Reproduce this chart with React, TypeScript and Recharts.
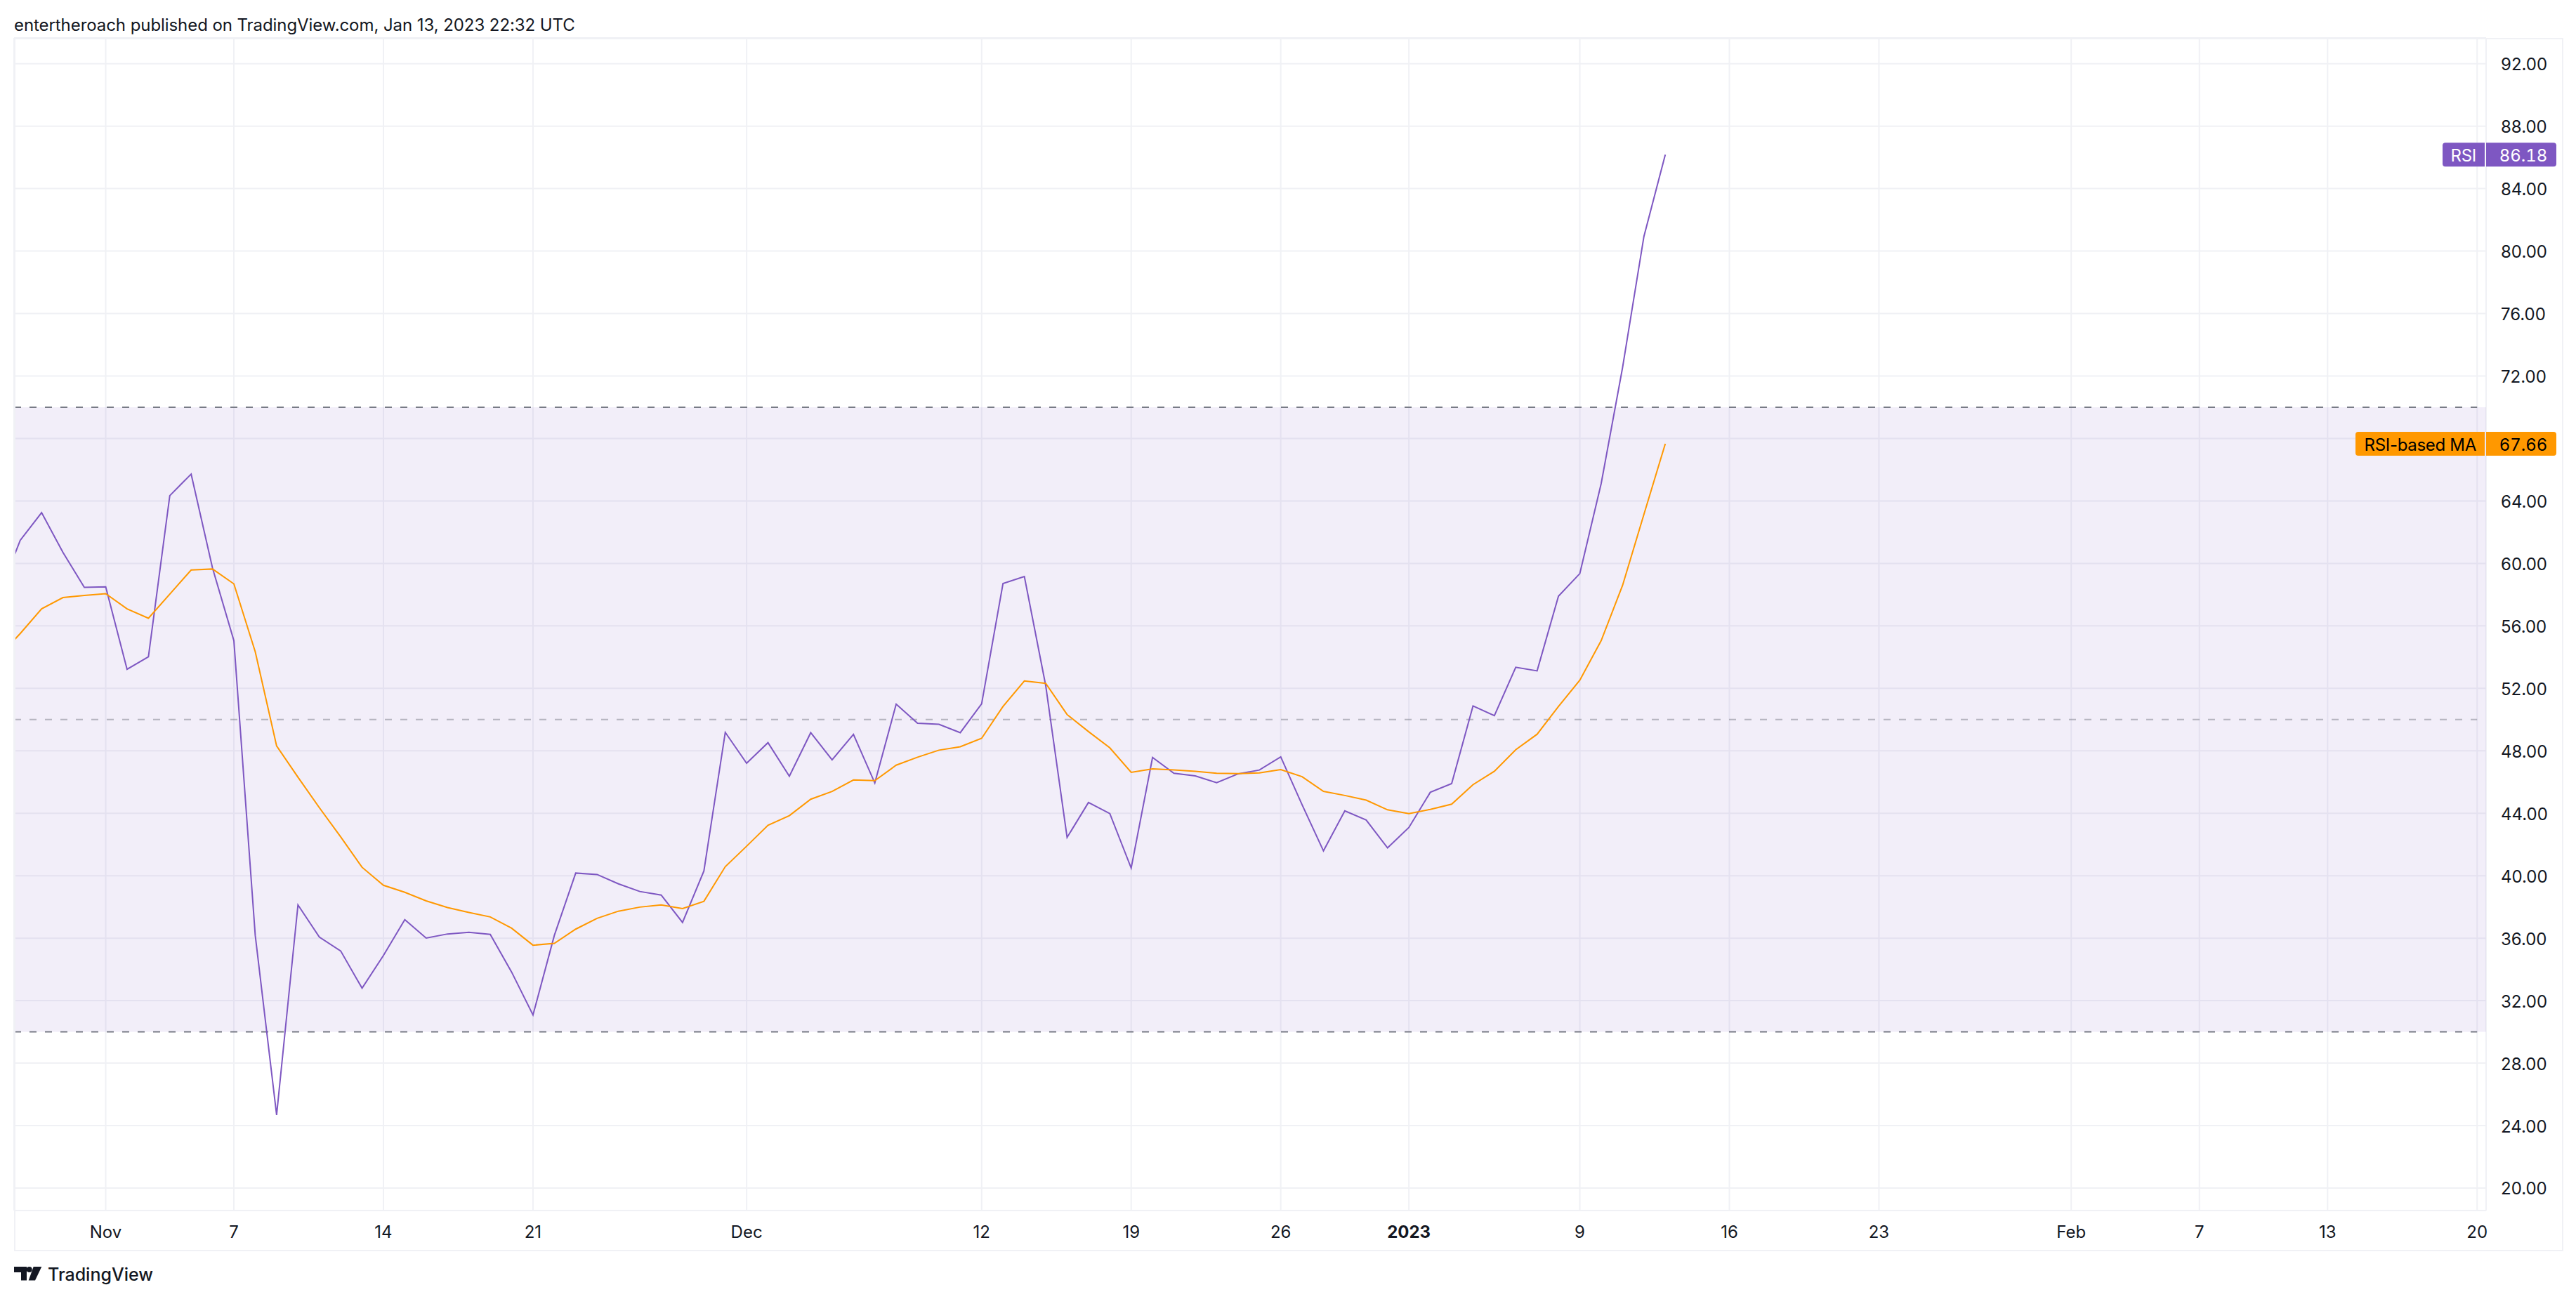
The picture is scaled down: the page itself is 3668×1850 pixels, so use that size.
import { ComposedChart, Line, XAxis, YAxis, CartesianGrid, ReferenceArea, ReferenceLine, ReferenceDot } from 'recharts'

// day offsets from Nov 1, 2022
const days = [
  -5, -4, -3, -2, -1, 0, 1, 2, 3, 4, 5, 6, 7, 8, 9, 10, 11, 12, 13, 14,
  15, 16, 17, 18, 19, 20, 21, 22, 23, 24, 25, 26, 27, 28, 29, 30, 31, 32, 33, 34,
  35, 36, 37, 38, 39, 40, 41, 42, 43, 44, 45, 46, 47, 48, 49, 50, 51, 52, 53, 54,
  55, 56, 57, 58, 59, 60, 61, 62, 63, 64, 65, 66, 67, 68, 69, 70, 71, 72, 73,
]

const rsiValues = [
  58.0, 61.48, 63.25, 60.7, 58.47, 58.5, 53.22, 54.02, 64.34, 65.72, 59.7, 55.05, 36.18, 24.68, 38.13, 36.07, 35.18, 32.8, 34.89, 37.19,
  36.01, 36.27, 36.38, 36.24, 33.83, 31.08, 36.18, 40.17, 40.08, 39.48, 38.99, 38.76, 37.01, 40.3, 49.18, 47.2, 48.52, 46.37, 49.16, 47.42,
  49.05, 45.94, 50.99, 49.76, 49.7, 49.16, 51.01, 58.71, 59.16, 52.17, 42.45, 44.69, 43.98, 40.49, 47.57, 46.56, 46.39, 45.96, 46.52, 46.77,
  47.61, 44.54, 41.59, 44.15, 43.57, 41.78, 43.09, 45.34, 45.9, 50.87, 50.25, 53.35, 53.12, 57.9, 59.35, 65.12, 72.54, 80.94, 86.18,
]

const maValues = [
  54.02, 55.51, 57.09, 57.81, 57.95, 58.06, 57.09, 56.49, 58.03, 59.58, 59.64, 58.69, 54.34, 48.31, 46.31, 44.36, 42.49, 40.54, 39.39, 38.94,
  38.39, 37.96, 37.65, 37.36, 36.64, 35.55, 35.67, 36.58, 37.27, 37.73, 37.99, 38.13, 37.9, 38.36, 40.58, 41.89, 43.23, 43.85, 44.9, 45.4,
  46.13, 46.09, 47.08, 47.59, 48.04, 48.26, 48.8, 50.84, 52.47, 52.32, 50.32, 49.23, 48.19, 46.62, 46.84, 46.77, 46.69, 46.56, 46.54, 46.58,
  46.8, 46.34, 45.4, 45.14, 44.84, 44.22, 43.98, 44.25, 44.58, 45.83, 46.69, 48.07, 49.06, 50.84, 52.52, 55.06, 58.59, 63.14, 67.66,
]

const tickDays = [0, 6, 13, 20, 30, 41, 48, 55, 61, 69, 76, 83, 92, 98, 104, 111]
const tickLabels = ['Nov', '7', '14', '21', 'Dec', '12', '19', '26', '2023', '9', '16', '23', 'Feb', '7', '13', '20']
const priceTicks = [20, 24, 28, 32, 36, 40, 44, 48, 52, 56, 60, 64, 68, 72, 76, 80, 84, 88, 92]

const chartData = days.map((day, i) => ({ day, rsi: rsiValues[i], ma: maValues[i] }))

const FONT = 'Inter, sans-serif'
const INK = '#131722'
const GRID = '#F0F1F5'
const X_MIN = -4.29
const X_MAX = 111.42

function DateTick({ x, payload }: any) {
  const label = tickLabels[tickDays.indexOf(payload.value)]
  return (
    <text x={x} y={1754} textAnchor="middle" dominantBaseline="central" fontFamily={FONT} fontSize={24} fontWeight={label === '2023' ? 700 : 400} fill={INK}>
      {label}
    </text>
  )
}

function PriceTick({ x, y, payload }: any) {
  // the 68.00 label sits behind the RSI-based MA tag in the reference
  if (payload.value === 68) return null
  return (
    <text x={x} y={y + 1} textAnchor="start" dominantBaseline="central" fontFamily={FONT} fontSize={24} fill={INK}>
      {Number(payload.value).toFixed(2)}
    </text>
  )
}

function PriceTag({ cx, cy, name, value, color, textColor, labelWidth }: any) {
  const top = cy - 17
  const bottom = cy + 17
  const r = 4
  const labelLeft = cx - 2 - labelWidth
  return (
    <g fontFamily={FONT} fontSize={24}>
      <path d={`M${cx - 2} ${top}H${labelLeft + r}Q${labelLeft} ${top} ${labelLeft} ${top + r}V${bottom - r}Q${labelLeft} ${bottom} ${labelLeft + r} ${bottom}H${cx - 2}Z`} fill={color} />
      <path d={`M${cx} ${top}H${cx + 100 - r}Q${cx + 100} ${top} ${cx + 100} ${top + r}V${bottom - r}Q${cx + 100} ${bottom} ${cx + 100 - r} ${bottom}H${cx}Z`} fill={color} />
      <text x={cx - 14} y={cy + 1} textAnchor="end" dominantBaseline="central" fill={textColor} letterSpacing={-0.3}>{name}</text>
      <text x={cx + 53} y={cy + 1} textAnchor="middle" dominantBaseline="central" fill={textColor} style={{ fontVariantNumeric: 'tabular-nums' }}>{value}</text>
    </g>
  )
}

export default function App() {
  return (
    <div style={{ position: 'absolute', left: 0, top: 0, width: 3668, height: 1850, background: '#fff', overflow: 'hidden' }}>
      <div style={{ position: 'absolute', left: 20, top: 21, fontFamily: FONT, fontSize: 24, lineHeight: '30px', letterSpacing: -0.07, color: INK, whiteSpace: 'nowrap' }}>
        entertheroach published on TradingView.com, Jan 13, 2023 22:32 UTC
      </div>

      <ComposedChart width={3668} height={1850} data={chartData} margin={{ top: 54, right: 20, bottom: 70, left: 20 }}>
        <CartesianGrid stroke={GRID} strokeWidth={2} />
        <XAxis
          dataKey="day"
          type="number"
          domain={[X_MIN, X_MAX]}
          allowDataOverflow
          ticks={tickDays}
          interval={0}
          height={56}
          axisLine={false}
          tickLine={false}
          tick={DateTick}
        />
        <YAxis
          orientation="right"
          width={108}
          domain={[18.56, 93.65]}
          allowDataOverflow
          ticks={priceTicks}
          interval={0}
          axisLine={false}
          tickLine={false}
          tickSize={0}
          tickMargin={21}
          tick={PriceTick}
        />
        <ReferenceArea y1={30} y2={70} fill="#7E57C2" fillOpacity={0.1} stroke="none" />
        <ReferenceLine segment={[{ x: X_MIN, y: 70 }, { x: 111, y: 70 }]} stroke="#787B86" strokeWidth={2} strokeDasharray="10 12" />
        <ReferenceLine segment={[{ x: X_MIN, y: 50 }, { x: 111, y: 50 }]} stroke="#787B86" strokeOpacity={0.5} strokeWidth={2} strokeDasharray="10 12" />
        <ReferenceLine segment={[{ x: X_MIN, y: 30 }, { x: 111, y: 30 }]} stroke="#787B86" strokeWidth={2} strokeDasharray="10 12" />
        <Line dataKey="rsi" stroke="#7E57C2" strokeWidth={2} dot={false} activeDot={false} isAnimationActive={false} />
        <Line dataKey="ma" stroke="#FF9800" strokeWidth={2} dot={false} activeDot={false} isAnimationActive={false} />
        <ReferenceDot
          x={X_MAX}
          y={86.18}
          ifOverflow="visible"
          shape={(p: any) => <PriceTag cx={p.cx} cy={p.cy} name="RSI" value="86.18" color="#7E57C2" textColor="#fff" labelWidth={60} />}
        />
        <ReferenceDot
          x={X_MAX}
          y={67.66}
          ifOverflow="visible"
          shape={(p: any) => <PriceTag cx={p.cx} cy={p.cy} name="RSI-based MA" value="67.66" color="#FF9800" textColor="#000" labelWidth={184} />}
        />
      </ComposedChart>

      <div style={{ position: 'absolute', left: 20, top: 54, width: 3626, height: 1724, border: `2px solid ${GRID}`, pointerEvents: 'none' }} />

      <svg style={{ position: 'absolute', left: 20, top: 1804 }} width={42} height={20} viewBox="0 0 42 20">
        <path d="M0 0H18V19.5H10V8H0Z" fill={INK} />
        <circle cx={21.7} cy={4} r={4} fill={INK} />
        <path d="M27.7 0H39.3L30 19.5H20.7Z" fill={INK} />
      </svg>
      <div style={{ position: 'absolute', left: 68, top: 1798, fontFamily: FONT, fontSize: 25, lineHeight: '34px', fontWeight: 500, color: INK, whiteSpace: 'nowrap' }}>
        TradingView
      </div>
    </div>
  )
}
